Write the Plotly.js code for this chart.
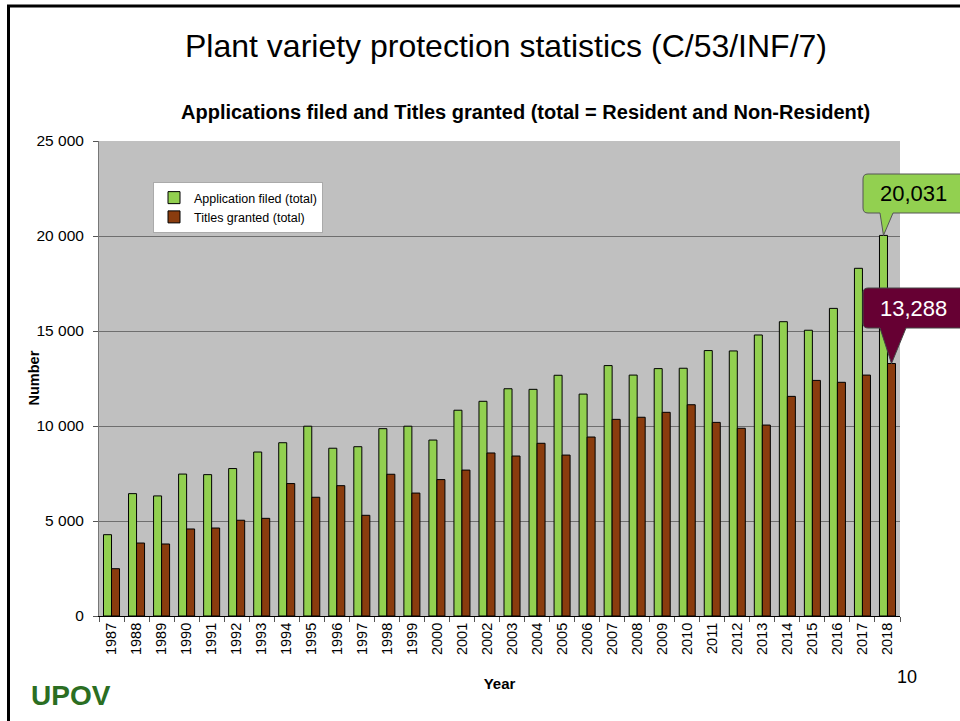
<!DOCTYPE html>
<html><head><meta charset="utf-8">
<script src="https://cdn.plot.ly/plotly-3.0.1.min.js"></script>
<style>html,body{margin:0;padding:0;background:#fff}#chart{width:960px;height:721px}</style>
</head><body><div id="chart"></div><script>
const years = ['1987','1988','1989','1990','1991','1992','1993','1994','1995','1996','1997','1998','1999','2000','2001','2002','2003','2004','2005','2006','2007','2008','2009','2010','2011','2012','2013','2014','2015','2016','2017','2018'];
const applications = [4280,6440,6320,7470,7440,7760,8630,9120,9990,8830,8910,9860,9990,9260,10830,11300,11960,11930,12670,11680,13180,12680,13020,13040,13970,13950,14790,15490,15040,16190,18300,20031];
const titles = [2490,3840,3790,4580,4630,5040,5140,6970,6250,6860,5300,7460,6470,7180,7680,8580,8420,9090,8470,9420,10350,10460,10720,11120,10190,9880,10050,11560,12400,12300,12680,13288];
const seriesNames = ['Application filed (total)','Titles granted (total)'];
const yTicks = [0,5000,10000,15000,20000,25000];

const W=960,H=721,ML=99,MR=60,MT=141,MB=105;
const PW=W-ML-MR, PH=H-MT-MB, YMAX=25000;
function px(x){return (x-ML)/PW;}
function py(y){return (H-MB-y)/PH;}
function P(x,y){return px(x)+','+py(y);}
function fmt(v){return v.toLocaleString('en-US');}

const green='#92d050', brown='#8a3c0e', maroon='#660033';
const n=years.length, last=n-1;
const barOff=0.16;
const tipAx = ML + PW*(last+0.5-barOff)/n, tipAy = H-MB - PH*applications[last]/YMAX;
const tipTx = ML + PW*(last+0.5+barOff)/n, tipTy = H-MB - PH*titles[last]/YMAX;

function callout(x0,y0,x1,y1,b0,b1,tx,ty,r){
  return 'M '+P(x0+r,y0)+' L '+P(x1,y0)+' L '+P(x1,y1)+' L '+P(b1,y1)+' L '+P(tx,ty)+' L '+P(b0,y1)+
    ' L '+P(x0+r,y1)+' Q '+P(x0,y1)+' '+P(x0,y1-r)+' L '+P(x0,y0+r)+' Q '+P(x0,y0)+' '+P(x0+r,y0)+' Z';
}

const traces=[
 {type:'bar',name:seriesNames[0],x:years,y:applications,marker:{color:green,line:{color:'#000',width:1}}},
 {type:'bar',name:seriesNames[1],x:years,y:titles,marker:{color:brown,line:{color:'#000',width:1}}}
];
const font='"Liberation Sans", Arial, sans-serif';
const layout={
 width:W,height:H,margin:{l:ML,r:MR,t:MT,b:MB,pad:0},
 paper_bgcolor:'#fff',plot_bgcolor:'#c0c0c0',
 font:{family:font,color:'#000'},
 separators:'. ',
 barmode:'group',bargap:0.36,bargroupgap:0,
 showlegend:true,
 title:{text:'Plant variety protection statistics (C/53/INF/7)',font:{size:32,family:font},x:506/W,xref:'container',xanchor:'center',y:1-46/H,yref:'container',yanchor:'middle'},
 legend:{x:px(153),y:py(182),xanchor:'left',yanchor:'top',bgcolor:'#fff',bordercolor:'#aaa',borderwidth:1,font:{size:12.5},itemwidth:30,tracegroupgap:0},
 xaxis:{type:'category',tickangle:-90,tickfont:{size:14.5},ticks:'outside',tickson:'boundaries',ticklen:5,tickcolor:'#555',showline:true,linecolor:'#000',linewidth:1,
   title:{text:'<b>Year</b>',font:{size:15},standoff:24},fixedrange:true},
 yaxis:{range:[0,YMAX],tickvals:yTicks,tickformat:',d',tickfont:{size:15.5},ticks:'outside',ticklen:5,tickcolor:'#555',ticklabelstandoff:6,showline:true,linecolor:'#777',gridcolor:'#6e6e6e',gridwidth:1,zeroline:false,fixedrange:true},
 shapes:[
  {type:'path',xref:'paper',yref:'paper',path:'M '+P(8.5,H+2)+' L '+P(8.5,6)+' L '+P(W+2,6),line:{color:'#000',width:3}},
  {type:'path',xref:'paper',yref:'paper',path:callout(863,174,962,213,880,893,tipAx,tipAy,5),fillcolor:green,line:{color:'#555',width:1}},
  {type:'path',xref:'paper',yref:'paper',path:callout(863,288,962,328,880,906,tipTx,tipTy,5),fillcolor:maroon,line:{color:'#444',width:1}}
 ],
 annotations:[
  {xref:'paper',yref:'paper',x:px(525.5),y:py(112),text:'<b>Applications filed and Titles granted (total = Resident and Non-Resident)</b>',showarrow:false,font:{size:20},xanchor:'center',yanchor:'middle'},
  {xref:'paper',yref:'paper',x:px(33),y:0.5,text:'<b>Number</b>',textangle:-90,showarrow:false,font:{size:14.5},xanchor:'center',yanchor:'middle'},
  {xref:'paper',yref:'paper',x:px(913),y:py(194),text:fmt(applications[last]),showarrow:false,font:{size:22,color:'#000'},xanchor:'center',yanchor:'middle'},
  {xref:'paper',yref:'paper',x:px(913),y:py(308),text:fmt(titles[last]),showarrow:false,font:{size:22,color:'#fff'},xanchor:'center',yanchor:'middle'},
  {xref:'paper',yref:'paper',x:px(907),y:py(677),text:'10',showarrow:false,font:{size:18},xanchor:'center',yanchor:'middle'},
  {xref:'paper',yref:'paper',x:px(29),y:py(695),text:'<b>UPOV</b>',showarrow:false,font:{size:28,color:'#2b6e22'},xanchor:'left',yanchor:'middle'}
 ]
};
Plotly.newPlot('chart',traces,layout,{staticPlot:true});
</script></body></html>
